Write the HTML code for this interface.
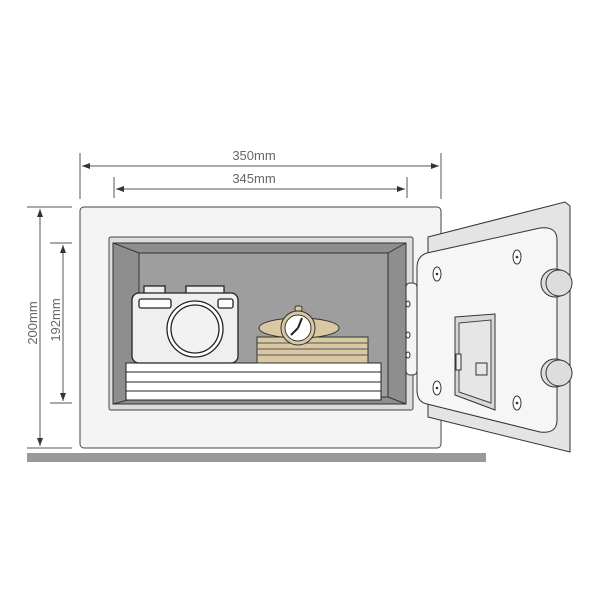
<!DOCTYPE html>
<html><head><style>body{margin:0;background:#fff}svg{display:block}</style></head><body>
<svg width="600" height="600" viewBox="0 0 600 600" xmlns="http://www.w3.org/2000/svg" font-family="Liberation Sans, sans-serif">
<defs><marker id="a" markerWidth="8" markerHeight="6" refX="8" refY="3" orient="auto-start-reverse" markerUnits="userSpaceOnUse"><path d="M0,0 L8,3 L0,6z" fill="#333"/></marker></defs>
<g stroke="#555" stroke-width="1" fill="none">
<line x1="80" y1="153" x2="80" y2="199"/><line x1="441" y1="153" x2="441" y2="199"/>
<line x1="114" y1="177" x2="114" y2="198"/><line x1="407" y1="177" x2="407" y2="198"/>
<line x1="82" y1="166" x2="439" y2="166" marker-start="url(#a)" marker-end="url(#a)"/>
<line x1="116" y1="189" x2="405" y2="189" marker-start="url(#a)" marker-end="url(#a)"/>
<line x1="27" y1="207" x2="72" y2="207"/><line x1="27" y1="448" x2="72" y2="448"/>
<line x1="50" y1="243" x2="72" y2="243"/><line x1="50" y1="403" x2="72" y2="403"/>
<line x1="40" y1="209" x2="40" y2="446" marker-start="url(#a)" marker-end="url(#a)"/>
<line x1="63" y1="245" x2="63" y2="401" marker-start="url(#a)" marker-end="url(#a)"/>
</g>
<g fill="#666" font-size="13" text-anchor="middle">
<text x="254" y="160">350mm</text><text x="254" y="183">345mm</text>
<text transform="translate(37,323) rotate(-90)">200mm</text>
<text transform="translate(60,320) rotate(-90)">192mm</text>
</g>
<rect x="27" y="453" width="459" height="9" fill="#9a9a9a"/>
<!-- body -->
<rect x="80" y="207" width="361" height="241" rx="4" fill="#f4f4f4" stroke="#444"/>
<rect x="109" y="237" width="304" height="173" rx="2" fill="#dcdcdc" stroke="#444"/>
<rect x="113" y="243" width="293" height="161" fill="#8e8e8e" stroke="#333"/>
<rect x="139" y="253" width="249" height="144" fill="#9e9e9e" stroke="#333"/>
<g stroke="#333" fill="none"><line x1="113" y1="243" x2="139" y2="253"/><line x1="406" y1="243" x2="388" y2="253"/><line x1="113" y1="404" x2="139" y2="397"/><line x1="406" y1="404" x2="388" y2="397"/></g>
<!-- papers -->
<g fill="#fff" stroke="#222"><rect x="126" y="363" width="255" height="9"/><rect x="126" y="372" width="255" height="10"/><rect x="126" y="382" width="255" height="9"/><rect x="126" y="391" width="255" height="9"/></g>
<!-- camera -->
<g stroke="#222" stroke-width="1.3"><rect x="144" y="286" width="21" height="8" fill="#eee"/><rect x="186" y="286" width="38" height="8" fill="#eee"/>
<rect x="132" y="293" width="106" height="70" rx="7" fill="#efefef"/>
<rect x="139" y="299" width="32" height="9" rx="2" fill="#fff"/><rect x="218" y="299" width="15" height="9" rx="2" fill="#fff"/>
<circle cx="195" cy="329" r="28" fill="#fff"/><circle cx="195" cy="329" r="24" fill="#f2f2f2"/></g>
<!-- box -->
<g stroke="#333" fill="#d9c9a3"><rect x="257" y="337" width="111" height="26"/></g>
<g stroke="#555"><line x1="257" y1="343" x2="368" y2="343"/><line x1="257" y1="349" x2="368" y2="349"/><line x1="257" y1="355" x2="368" y2="355"/></g>
<ellipse cx="299" cy="328" rx="40" ry="10" fill="#d9c9a3" stroke="#333"/>
<rect x="295" y="306" width="7" height="5" rx="2" fill="#d9c9a3" stroke="#333"/>
<circle cx="298" cy="328" r="17" fill="#d9c9a3" stroke="#333"/>
<circle cx="298" cy="328" r="13" fill="#fff" stroke="#333"/>
<g stroke="#222" stroke-width="2"><line x1="298" y1="328" x2="302" y2="318"/><line x1="298" y1="328" x2="291" y2="335"/></g>
<!-- door -->
<polygon points="428,237 565,202 570,206 570,452 428,417" fill="#e4e4e4" stroke="#333"/>
<path d="M427,253 L540,228 Q557,226 557,240 L557,420 Q557,434 540,432 L427,404 Q417,402 417,390 L417,268 Q417,256 427,253z" fill="#f6f6f6" stroke="#333"/>
<rect x="406" y="283" width="11" height="92" rx="4" fill="#f4f4f4" stroke="#333"/>
<g fill="#fff" stroke="#333"><ellipse cx="408" cy="304" rx="2" ry="3"/><ellipse cx="408" cy="335" rx="2" ry="3"/><ellipse cx="408" cy="355" rx="2" ry="3"/></g>
<g fill="#ddd" stroke="#333"><circle cx="555" cy="283" r="14"/><circle cx="559" cy="283" r="13"/><circle cx="555" cy="373" r="14"/><circle cx="559" cy="373" r="13"/></g>
<g fill="#fff" stroke="#333"><ellipse cx="437" cy="274" rx="4" ry="7"/><ellipse cx="517" cy="257" rx="4" ry="7"/><ellipse cx="437" cy="388" rx="4" ry="7"/><ellipse cx="517" cy="403" rx="4" ry="7"/></g>
<g fill="#333"><circle cx="437" cy="274" r="1.3"/><circle cx="517" cy="257" r="1.3"/><circle cx="437" cy="388" r="1.3"/><circle cx="517" cy="403" r="1.3"/></g>
<polygon points="455,317 495,314 495,410 455,395" fill="#d8d8d8" stroke="#333"/>
<polygon points="459,323 491,320 491,403 459,392" fill="#e6e6e6" stroke="#444"/>
<rect x="456" y="354" width="5" height="16" fill="#eee" stroke="#333"/>
<rect x="476" y="363" width="11" height="12" fill="#e6e6e6" stroke="#333"/>
</svg>
</body></html>
